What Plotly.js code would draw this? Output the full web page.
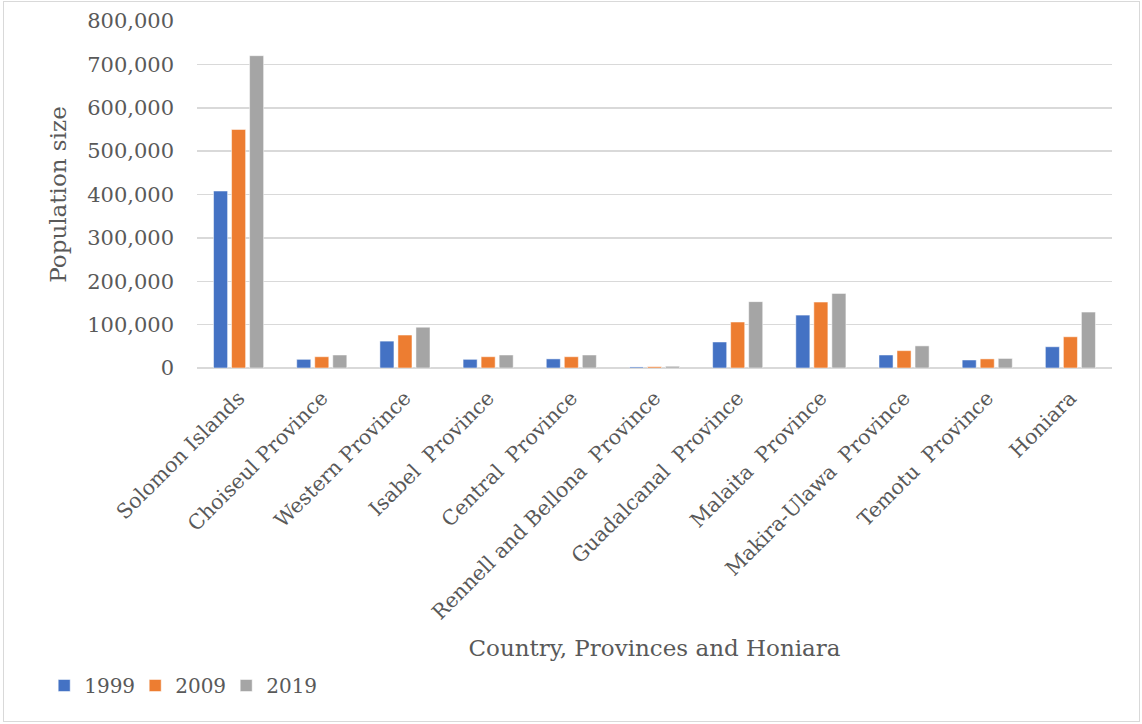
<!DOCTYPE html>
<html>
<head>
<meta charset="utf-8">
<script src="https://cdn.plot.ly/plotly-3.0.1.min.js"></script>
<style>
  html, body { margin: 0; padding: 0; background: #fff; }
  #wrap { position: relative; width: 1142px; height: 724px; }
  #chart { width: 1142px; height: 724px; }
  #frame { position: absolute; left: 3px; top: 1px; width: 1137px; height: 721px; border: 1px solid #d9d9d9; box-sizing: border-box; pointer-events: none; }
</style>
</head>
<body>
<div id="wrap"><div id="chart"></div><div id="frame"></div></div>
<script>
const categories = [
  "Solomon Islands",
  "Choiseul Province",
  "Western Province",
  "Isabel\u00a0 Province",
  "Central\u00a0 Province",
  "Rennell and Bellona\u00a0 Province",
  "Guadalcanal\u00a0 Province",
  "Malaita\u00a0 Province",
  "Makira-Ulawa\u00a0 Province",
  "Temotu\u00a0 Province",
  "Honiara"
];
const seriesNames = ["1999", "2009", "2019"];
const values1999 = [408000, 20000, 62000, 20000, 21000, 2400, 60000, 122000, 30000, 18500, 49000];
const values2009 = [550000, 26000, 76000, 26000, 26000, 3000, 106000, 152000, 40000, 21000, 72000];
const values2019 = [720000, 30000, 94000, 30000, 30000, 4000, 153000, 172000, 51000, 22000, 129000];
const colors = ["#4472C4", "#ED7D31", "#A5A5A5"];
const yTickVals = [0, 100000, 200000, 300000, 400000, 500000, 600000, 700000, 800000];

const font = "DejaVu Serif, serif";
const txt = "#595959";
const allValues = [values1999, values2009, values2019];

const traces = allValues.map((v, i) => ({
  type: "bar",
  name: seriesNames[i],
  x: categories,
  y: v,
  marker: { color: colors[i], line: { color: "rgba(255,255,255,0.5)", width: 1 } },
  hoverinfo: "x+y+name"
}));

const layout = {
  width: 1142,
  height: 724,
  margin: { l: 197, r: 30, t: 21, b: 356 },
  paper_bgcolor: "rgba(0,0,0,0)",
  plot_bgcolor: "#fff",
  barmode: "group",
  bargap: 0.35,
  bargroupgap: 0.22,
  font: { family: font, color: txt, size: 20 },
  xaxis: {
    type: "category",
    tickangle: -45,
    tickfont: { family: font, size: 20.5, color: txt },
    showgrid: false,
    showline: false,
    ticks: "",
    ticklabelstandoff: 13,
    title: { text: "Country, Provinces and Honiara", font: { family: font, size: 23, color: txt }, standoff: 16 }
  },
  yaxis: {
    range: [0, 800000],
    tickvals: yTickVals,
    tickformat: ",d",
    tickfont: { family: font, size: 21, color: txt },
    gridcolor: "#d9d9d9",
    gridwidth: 1.5,
    zeroline: true,
    zerolinecolor: "#d9d9d9",
    zerolinewidth: 1.5,
    showline: false,
    ticks: "",
    ticklabelstandoff: 22,
    title: { text: "Population size", font: { family: font, size: 23, color: txt }, standoff: 14 }
  },
  legend: {
    orientation: "h",
    x: -0.167,
    xanchor: "left",
    y: -0.915,
    yanchor: "middle",
    font: { family: font, size: 20, color: txt },
    traceorder: "normal",
    itemwidth: 30,
    entrywidth: 46,
    entrywidthmode: "pixels"
  },
  showlegend: true
};

Plotly.newPlot("chart", traces, layout, { displayModeBar: false, staticPlot: true });
</script>
</body>
</html>
